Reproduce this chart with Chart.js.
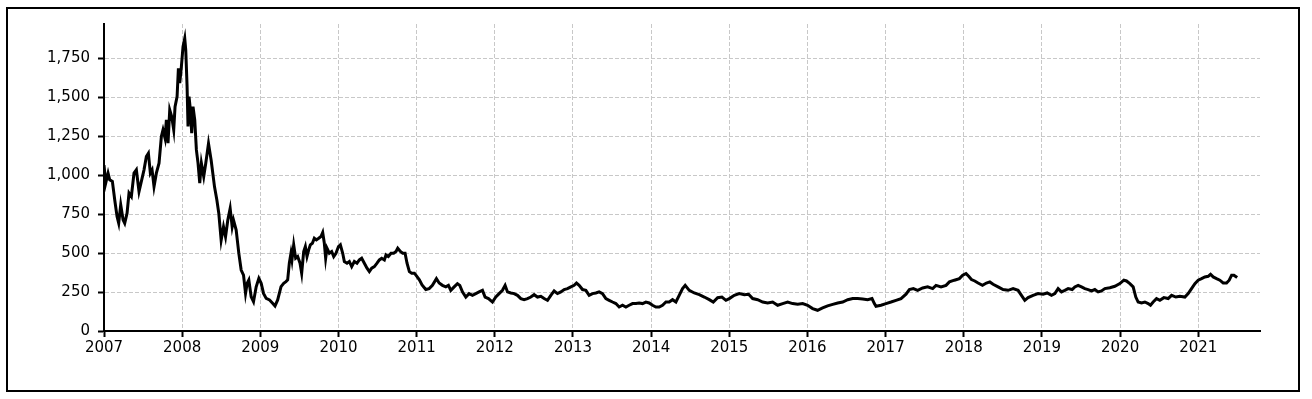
<!DOCTYPE html>
<html>
<head>
<meta charset="utf-8">
<title>Price history 2007-2021</title>
<script src="https://cdn.jsdelivr.net/npm/chart.js@4/dist/chart.umd.min.js"></script>
<style>
  html, body { margin: 0; padding: 0; background: #fff; }
  #wrap { position: relative; width: 1312px; height: 399px; }
  #frame { position: absolute; left: 6px; top: 7px; width: 1290px; height: 381px; border: 2px solid #000; pointer-events: none; }
  canvas { position: absolute; left: 0; top: 0; }
</style>
</head>
<body>
<div id="wrap">
  <canvas id="priceChart" width="1312" height="399"></canvas>
  <div id="frame"></div>
</div>
<script>
// --- data (x = decimal year) ---
const dates = [
  2007.000, 2007.022, 2007.052, 2007.073, 2007.107, 2007.137, 2007.167, 2007.188, 2007.214, 2007.244,
  2007.265, 2007.295, 2007.320, 2007.350, 2007.384, 2007.414, 2007.448, 2007.478, 2007.512, 2007.542,
  2007.568, 2007.593, 2007.615, 2007.640, 2007.670, 2007.704, 2007.734, 2007.755, 2007.781, 2007.798,
  2007.819, 2007.841, 2007.866, 2007.892, 2007.909, 2007.935, 2007.952, 2007.969, 2007.990, 2008.011,
  2008.033, 2008.046, 2008.063, 2008.075, 2008.088, 2008.105, 2008.122, 2008.139, 2008.161, 2008.182,
  2008.203, 2008.225, 2008.246, 2008.276, 2008.302, 2008.337, 2008.371, 2008.414, 2008.444, 2008.469,
  2008.499, 2008.529, 2008.555, 2008.584, 2008.614, 2008.640, 2008.657, 2008.691, 2008.725, 2008.755,
  2008.785, 2008.811, 2008.832, 2008.853, 2008.883, 2008.913, 2008.947, 2008.981, 2009.011, 2009.041,
  2009.075, 2009.118, 2009.160, 2009.188, 2009.222, 2009.265, 2009.299, 2009.328, 2009.350, 2009.371,
  2009.392, 2009.405, 2009.427, 2009.452, 2009.478, 2009.508, 2009.529, 2009.555, 2009.576, 2009.597,
  2009.619, 2009.640, 2009.666, 2009.691, 2009.717, 2009.747, 2009.776, 2009.798, 2009.819, 2009.836,
  2009.853, 2009.883, 2009.913, 2009.939, 2009.968, 2010.000, 2010.024, 2010.054, 2010.075, 2010.109,
  2010.139, 2010.169, 2010.203, 2010.237, 2010.267, 2010.297, 2010.331, 2010.365, 2010.395, 2010.425,
  2010.459, 2010.493, 2010.523, 2010.553, 2010.587, 2010.608, 2010.638, 2010.672, 2010.706, 2010.736,
  2010.758, 2010.792, 2010.822, 2010.852, 2010.877, 2010.907, 2010.937, 2010.971, 2011.005, 2011.035,
  2011.069, 2011.117, 2011.160, 2011.202, 2011.253, 2011.288, 2011.330, 2011.373, 2011.407, 2011.437,
  2011.480, 2011.522, 2011.552, 2011.586, 2011.629, 2011.671, 2011.714, 2011.757, 2011.799, 2011.842,
  2011.876, 2011.919, 2011.970, 2012.013, 2012.055, 2012.098, 2012.132, 2012.162, 2012.205, 2012.247,
  2012.290, 2012.333, 2012.375, 2012.418, 2012.461, 2012.503, 2012.546, 2012.589, 2012.631, 2012.674,
  2012.717, 2012.759, 2012.802, 2012.845, 2012.887, 2012.930, 2012.973, 2013.015, 2013.045, 2013.079,
  2013.122, 2013.165, 2013.207, 2013.250, 2013.293, 2013.335, 2013.378, 2013.421, 2013.463, 2013.506,
  2013.549, 2013.591, 2013.634, 2013.677, 2013.719, 2013.762, 2013.805, 2013.847, 2013.890, 2013.933,
  2013.975, 2014.018, 2014.061, 2014.103, 2014.146, 2014.189, 2014.231, 2014.274, 2014.317, 2014.359,
  2014.402, 2014.436, 2014.488, 2014.552, 2014.616, 2014.680, 2014.744, 2014.795, 2014.851, 2014.906,
  2014.957, 2015.000, 2015.064, 2015.128, 2015.192, 2015.247, 2015.299, 2015.363, 2015.427, 2015.491,
  2015.555, 2015.619, 2015.683, 2015.747, 2015.811, 2015.875, 2015.939, 2016.002, 2016.066, 2016.130,
  2016.194, 2016.258, 2016.323, 2016.387, 2016.451, 2016.515, 2016.579, 2016.643, 2016.706, 2016.770,
  2016.826, 2016.856, 2016.877, 2016.941, 2017.005, 2017.069, 2017.133, 2017.197, 2017.261, 2017.304,
  2017.355, 2017.410, 2017.474, 2017.538, 2017.602, 2017.645, 2017.709, 2017.773, 2017.816, 2017.880,
  2017.944, 2017.986, 2018.029, 2018.063, 2018.098, 2018.141, 2018.183, 2018.239, 2018.290, 2018.333,
  2018.375, 2018.439, 2018.503, 2018.567, 2018.631, 2018.695, 2018.738, 2018.781, 2018.823, 2018.887,
  2018.951, 2019.015, 2019.067, 2019.122, 2019.165, 2019.207, 2019.250, 2019.293, 2019.335, 2019.387,
  2019.421, 2019.463, 2019.506, 2019.549, 2019.591, 2019.634, 2019.677, 2019.719, 2019.762, 2019.805,
  2019.869, 2019.933, 2019.997, 2020.048, 2020.082, 2020.125, 2020.167, 2020.201, 2020.231, 2020.274,
  2020.317, 2020.359, 2020.389, 2020.423, 2020.466, 2020.509, 2020.560, 2020.615, 2020.659, 2020.713,
  2020.765, 2020.829, 2020.871, 2020.914, 2020.957, 2020.999, 2021.042, 2021.085, 2021.127, 2021.157,
  2021.191, 2021.234, 2021.276, 2021.319, 2021.362, 2021.396, 2021.427, 2021.456, 2021.498
];

const prices = [
  1065, 949, 1013, 970, 960, 842, 735, 692, 810, 714,
  692, 756, 885, 863, 1013, 1034, 895, 960, 1034, 1120,
  1141, 1013, 1034, 927, 1013, 1077, 1248, 1291, 1237, 1355,
  1205, 1419, 1376, 1291, 1440, 1504, 1686, 1590, 1697, 1825,
  1878, 1803, 1568, 1312, 1504, 1419, 1269, 1440, 1355, 1162,
  1077, 949, 1077, 991, 1077, 1203, 1096, 925, 840, 754,
  583, 669, 605, 712, 786, 669, 712, 648, 498, 391,
  359, 241, 306, 327, 220, 188, 284, 338, 306, 241,
  209, 199, 177, 161, 199, 285, 306, 317, 328, 435,
  499, 456, 553, 467, 478, 435, 371, 510, 542, 478,
  521, 553, 563, 595, 585, 595, 606, 632, 563, 467,
  531, 499, 510, 478, 499, 542, 553, 499, 446, 435,
  446, 413, 446, 435, 456, 467, 435, 403, 381, 403,
  413, 435, 456, 467, 456, 488, 478, 499, 499, 510,
  531, 510, 499, 499, 435, 381, 371, 371, 349, 328,
  296, 266, 272, 293, 336, 308, 293, 283, 293, 261,
  283, 304, 293, 251, 218, 240, 229, 240, 251, 261,
  218, 208, 186, 218, 240, 261, 293, 251, 244, 240,
  229, 208, 201, 208, 218, 233, 218, 223, 208, 197,
  229, 257, 240, 251, 266, 272, 283, 293, 308, 293,
  266, 261, 229, 240, 244, 251, 240, 208, 197, 186,
  176, 154, 165, 154, 165, 176, 176, 180, 176, 186,
  180, 165, 154, 154, 165, 186, 186, 201, 186, 229,
  272, 293, 261, 244, 233, 218, 201, 186, 214, 218,
  197, 208, 229, 240, 233, 236, 208, 201, 186, 180,
  186, 165, 176, 186, 176, 171, 176, 165, 144, 133,
  148, 161, 171, 180, 186, 201, 208, 208, 206, 201,
  208, 176, 159, 165, 176, 186, 197, 208, 236, 266,
  272, 261, 276, 283, 272, 293, 283, 293, 315, 326,
  336, 358, 368, 351, 330, 321, 308, 293, 308, 315,
  300, 283, 266, 261, 272, 261, 229, 197, 214, 229,
  240, 236, 244, 229, 240, 272, 251, 261, 272, 266,
  283, 293, 283, 272, 266, 257, 266, 251, 257, 272,
  278, 287, 304, 326, 321, 304, 283, 218, 186, 180,
  186, 176, 165, 186, 208, 197, 214, 208, 229, 218,
  223, 218, 240, 272, 304, 326, 336, 347, 351, 364,
  347, 336, 326, 308, 308, 326, 358, 358, 343
];

// tick values shown on the axes
const yearTicks = [2007, 2008, 2009, 2010, 2011, 2012, 2013, 2014, 2015, 2016, 2017, 2018, 2019, 2020, 2021];
const valueTicks = [0, 250, 500, 750, 1000, 1250, 1500, 1750];

const points = dates.map((d, i) => ({ x: d, y: prices[i] }));

Chart.defaults.font.family = "'DejaVu Sans', Verdana, sans-serif";
Chart.defaults.font.size = 15;
Chart.defaults.color = '#000';

const gridStyle = {
    color: '#c8c8c8',
    lineWidth: 1,
    borderDash: [4, 4],
    tickColor: '#000',
    tickLength: 6,
    tickWidth: 2,
    tickBorderDash: []
};
const axisBorder = { display: true, color: '#000', width: 2, dash: [4, 2] };

const ctx = document.getElementById('priceChart').getContext('2d');
new Chart(ctx, {
    type: 'line',
    data: {
        datasets: [{
            data: points,
            borderColor: '#000',
            borderWidth: 3,
            pointRadius: 0,
            tension: 0,
            fill: false
        }]
    },
    options: {
        responsive: false,
        animation: false,
        devicePixelRatio: 1,
        layout: { padding: { top: 24, right: 52, left: 0, bottom: 0 } },
        plugins: {
            legend: { display: false },
            tooltip: { enabled: false }
        },
        scales: {
            x: {
                type: 'linear',
                min: 2007,
                max: 2021.79,
                grid: gridStyle,
                border: axisBorder,
                ticks: {
                    padding: 2,
                    maxRotation: 0,
                    autoSkip: false,
                    callback: v => String(v)
                },
                afterBuildTicks: scale => { scale.ticks = yearTicks.map(v => ({ value: v })); },
                afterFit: scale => { scale.height = 68; }
            },
            y: {
                min: 0,
                max: 1970,
                grid: gridStyle,
                border: axisBorder,
                ticks: {
                    padding: 8,
                    autoSkip: false,
                    callback: v => v.toLocaleString('en-US')
                },
                afterBuildTicks: scale => { scale.ticks = valueTicks.map(v => ({ value: v })); },
                afterFit: scale => { scale.width = 104; }
            }
        }
    }
});
</script>
</body>
</html>
